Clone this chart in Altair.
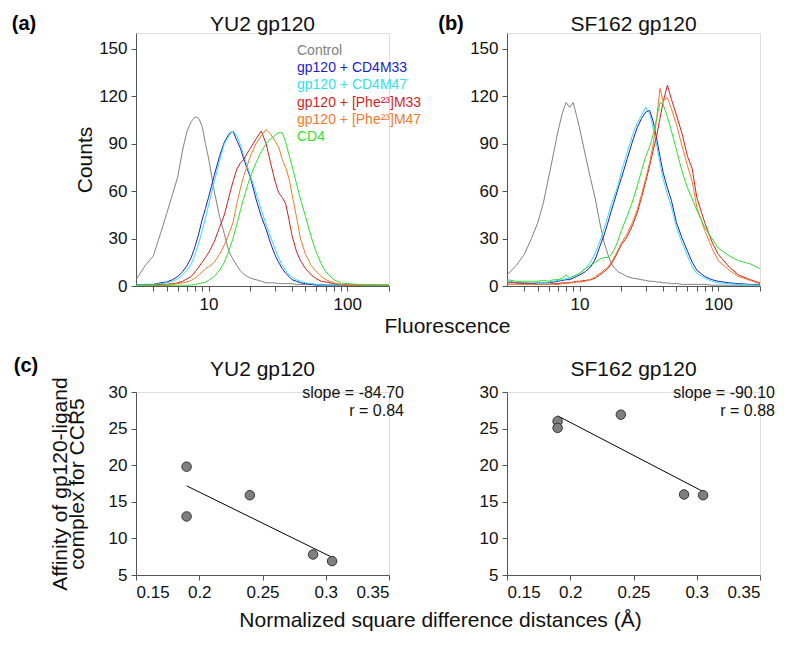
import altair as alt
import pandas as pd

FONT = "Liberation Sans"

# ---------------- data ----------------
FLUOR = [3, 3.5, 4, 4.5, 5, 5.5, 6, 6.5, 7, 7.5, 8, 8.5, 9, 9.5, 10, 11, 12, 13, 14, 15,
         16, 17, 18, 19, 20, 22, 24, 26, 28, 30, 32, 34, 36, 38, 40, 43, 46, 50, 55, 60,
         65, 70, 80, 90, 100, 120, 140, 170, 200]

SERIES = ["Control", "gp120 + CD4M33", "gp120 + CD4M47",
          "gp120 + [Phe²³]M33", "gp120 + [Phe²³]M47", "CD4"]
COLORS = ["#808080", "#1c1cc4", "#30e0ee", "#d41e1e", "#f47a2a", "#2fe02f"]

YU2_CONTROL = [4, 13, 19, 33, 46, 58, 69, 86, 98, 104, 107, 106, 101, 90, 81,
               60, 44, 33, 22, 17, 13, 9.5, 7.5, 6, 5,
               4, 3, 2, 2, 2, 1.5, 1.5, 1.5, 1.5, 1.5,
               1, 1, 1, 1, 1, 1, 0.5, 0.5, 0.5, 0.5,
               0.5, 0.5, 0.5, 0.5]
YU2_M33 = [0.5, 1, 1, 2, 2.5, 4, 6, 9, 13, 18, 25, 33, 42, 49, 56,
           70, 82, 91, 96, 98, 92, 87, 80, 74, 69,
           55, 44, 36, 27, 20, 15, 11, 8, 6, 4,
           3, 2, 1.5, 1, 0.5, 0.5, 0.5, 0.5, 0.5, 0.5,
           0.5, 0.5, 0.5, 0.5]
YU2_M47 = [0.5, 1, 1, 1.5, 2, 3, 4.5, 7, 10, 14, 20, 27, 35, 43, 51,
           66, 79, 90, 95, 98, 95, 89, 82, 76, 70,
           59, 48, 39, 31, 24, 18, 13, 10, 7, 5.5,
           4, 3, 2, 1.5, 1, 0.5, 0.5, 0.5, 0.5, 0.5,
           0.5, 0.5, 0.5, 0.5]
YU2_PHE_M33 = [0.3, 0.5, 0.5, 1, 1, 1.5, 2, 3, 4.5, 6, 9, 12, 15, 18, 21,
               28, 37, 45, 56, 66, 74, 78, 80, 84, 87,
               93, 98, 90, 78, 67, 59, 56, 52, 42, 32,
               22, 16, 11, 7, 4.5, 3, 2.5, 1.5, 1, 0.5,
               0.5, 0.5, 0.3, 0.3]
YU2_PHE_M47 = [0.3, 0.5, 0.5, 0.5, 1, 1, 1.5, 2, 2.5, 3.5, 5, 7, 9, 11, 12,
               15, 20, 26, 33, 40, 52, 62, 70, 76, 82,
               90, 95, 99, 96, 92, 88, 80, 75, 68, 58,
               44, 30, 20, 13, 9, 6, 4, 2, 1, 0.5,
               0.5, 0.5, 0.5, 0.5]
YU2_CD4 = [0.3, 0.3, 0.3, 0.3, 0.3, 0.5, 0.5, 0.5, 0.5, 0.5, 1, 1.5, 2, 2.5, 3.5,
           6, 10, 15, 22, 30, 39, 48, 56, 63, 69,
           78, 85, 90, 93, 95, 97, 97, 91, 83, 76,
           65, 55, 44, 31, 21, 14, 9, 4, 2, 1.5,
           1, 0.5, 0.5, 0.5]

SF_CONTROL = [7, 13, 20, 30, 40, 53, 69, 84, 98, 109, 116, 113, 116, 108, 100,
              83, 68, 55, 40, 28, 20, 14, 11, 9, 8,
              6, 5, 4.5, 4, 3.5, 3, 3, 2.5, 2.5, 2,
              2, 1.5, 1.5, 1, 1, 1, 1, 1, 0.5, 0.5,
              0.5, 0.5, 0.5, 0.5]
SF_M33 = [3, 2, 2, 1.5, 2, 2, 2, 2.5, 3, 3.5, 4, 4, 5, 6, 7,
          9, 12, 17, 25, 32, 40, 48, 55, 62, 68,
          80, 91, 100, 106, 110, 111, 104, 93, 82, 72,
          62, 54, 40, 30, 22, 15, 10, 6, 4, 3,
          2, 1.5, 1, 1]
SF_M47 = [3, 2, 2, 2, 2, 2, 2.5, 3, 3.5, 4, 4.5, 5, 6, 7, 8,
          11, 15, 21, 28, 36, 44, 52, 58, 64, 72,
          84, 95, 103, 108, 113, 109, 100, 89, 78, 68,
          58, 50, 37, 27, 19, 12, 8, 5, 3, 2,
          1.5, 1, 0.8, 0.5]
SF_PHE_M33 = [2, 2, 1.5, 1.5, 1, 1, 1, 1.5, 1.5, 2, 2, 2, 2.5, 3, 3,
              3.5, 4, 5, 7, 9, 11, 14, 18, 22, 26,
              31, 38, 46, 56, 66, 76, 86, 95, 106, 116,
              127, 118, 108, 96, 82, 74, 56, 40, 28, 20,
              12, 7, 4, 2]
SF_PHE_M47 = [1, 1, 1, 1, 1, 1, 1, 1, 1, 1.5, 1.5, 2, 2, 2.5, 2.5,
              3, 4, 6, 8, 10, 12, 15, 19, 23, 27,
              33, 40, 48, 58, 68, 78, 90, 106, 125, 117,
              119, 112, 102, 88, 76, 66, 50, 35, 24, 16,
              10, 6, 3.5, 1.5]
SF_CD4 = [4, 3, 3, 3, 3, 3.5, 3, 4, 4, 5, 7, 5, 6, 7, 8,
          11, 13, 15, 17, 18, 18, 20, 24, 29, 35,
          44, 53, 63, 73, 82, 88, 96, 106, 116, 115,
          107, 98, 86, 72, 62, 55, 48, 37, 30, 24,
          19, 16, 14, 11]

LOG_TICKS = [4, 5, 6, 7, 8, 9, 10, 20, 30, 40, 50, 60, 70, 80, 90, 100, 200]
COUNT_TICKS = [0, 30, 60, 90, 120, 150]

DIST = [0.19, 0.19, 0.24, 0.29, 0.305]
YU2_AFFINITY = [19.8, 13.0, 15.9, 7.8, 6.9]
SF_AFFINITY = [26.0, 25.1, 26.9, 16.0, 15.9]
DIST_TICKS = [0.15, 0.2, 0.25, 0.3, 0.35]
AFF_TICKS = [5, 10, 15, 20, 25, 30]
YU2_STATS = ["slope = -84.70", "r = 0.84"]
SF_STATS = ["slope = -90.10", "r = 0.88"]

# ---------------- layout constants ----------------
W = 253
H_TOP = 253
H_BOT = 183

AX = dict(domainColor="#555555", tickColor="#555555", tickSize=5, labelFontSize=17,
          labelColor="#111111", labelPadding=4, grid=False, labelFont=FONT,
          titleFont=FONT, titleFontSize=21, titleFontWeight="normal", titleColor="#111111")


def text_layer(txt, x, y, **kw):
    return alt.Chart(pd.DataFrame({"t": [txt]})).mark_text(font=FONT, **kw).encode(
        x=alt.value(x), y=alt.value(y), text="t:N")


def panel_title(title, y):
    return text_layer(title, W / 2, y, align="center", baseline="alphabetic",
                      fontSize=21, color="#111111")


def hist_panel(lists, title, letter, letter_x, legend, xtitle, ytitle):
    xaxis = dict(AX)
    xaxis.update(values=LOG_TICKS, labelPadding=5,
                 labelExpr="datum.value == 10 ? '10' : (datum.value == 100 ? '100' : '')")
    if xtitle:
        xaxis.update(title="Fluorescence", titleX=311, titleY=40, titleBaseline="middle")
    else:
        xaxis.update(title=None)
    yaxis = dict(AX)
    yaxis.update(values=COUNT_TICKS)
    if ytitle:
        yaxis.update(title="Counts", titleX=-51, titleY=H_TOP / 2, titleBaseline="middle")
    else:
        yaxis.update(title=None)
    x = alt.X("fluor:Q", scale=alt.Scale(type="log", domain=[3, 200], nice=False),
              axis=alt.Axis(**xaxis))
    y = alt.Y("count:Q", scale=alt.Scale(domain=[0, 160], nice=False), axis=alt.Axis(**yaxis))
    layers = []
    for name, vals, col in zip(SERIES, lists, COLORS):
        df = pd.DataFrame({"fluor": FLUOR, "count": vals})
        layers.append(alt.Chart(df).mark_line(strokeWidth=1, color=col, clip=True)
                      .encode(x=x, y=y))
    if legend:
        for i, (name, col) in enumerate(zip(SERIES, COLORS)):
            layers.append(text_layer(name, 161, 18 + i * 17.2, align="left",
                                     baseline="middle", fontSize=14, color=col))
    layers.append(text_layer(letter, letter_x, -9, align="center", baseline="middle",
                             fontSize=20, fontWeight="bold", color="black"))
    layers.append(panel_title(title, -2))
    return alt.layer(*layers).properties(width=W, height=H_TOP)


def scatter_panel(aff, stats, title, letter, xtitle, ytitle):
    xaxis = dict(AX)
    xaxis.update(values=DIST_TICKS, format=".2~f")
    if xtitle:
        xaxis.update(title="Normalized square difference distances (Å)", titleX=304,
                     titleY=45, titleBaseline="middle")
    else:
        xaxis.update(title=None)
    yaxis = dict(AX)
    yaxis.update(values=AFF_TICKS)
    if ytitle:
        yaxis.update(title=["Affinity of gp120-ligand", "complex for CCR5"], titleX=-76,
                     titleY=H_BOT / 2, titleBaseline="middle", titleLineHeight=17,
                     titleFontSize=21)
    else:
        yaxis.update(title=None)
    df = pd.DataFrame({"dist": DIST, "aff": aff})
    x = alt.X("dist:Q", scale=alt.Scale(domain=[0.15, 0.35], nice=False, zero=False),
              axis=alt.Axis(**xaxis))
    y = alt.Y("aff:Q", scale=alt.Scale(domain=[5, 30], nice=False, zero=False),
              axis=alt.Axis(**yaxis))
    reg = alt.Chart(df).transform_regression("dist", "aff").mark_line(
        color="black", strokeWidth=1).encode(x=x, y=y)
    pts = alt.Chart(df).mark_circle(size=90, color="#7f7f7f", stroke="#333333",
                                    strokeWidth=1, opacity=1).encode(x=x, y=y)
    layers = [reg, pts,
              text_layer(stats[0], W + 15, 1, align="right", baseline="middle",
                         fontSize=16, color="#111111"),
              text_layer(stats[1], W + 15, 19, align="right", baseline="middle",
                         fontSize=16, color="#111111"),
              panel_title(title, -16)]
    if letter:
        layers.append(text_layer(letter, -110, -26, align="center", baseline="middle",
                                 fontSize=20, fontWeight="bold", color="black"))
    return alt.layer(*layers).properties(width=W, height=H_BOT)


a = hist_panel([YU2_CONTROL, YU2_M33, YU2_M47, YU2_PHE_M33, YU2_PHE_M47, YU2_CD4],
               "YU2 gp120", "(a)", -112, True, True, True)
b = hist_panel([SF_CONTROL, SF_M33, SF_M47, SF_PHE_M33, SF_PHE_M47, SF_CD4],
               "SF162 gp120", "(b)", -56, False, False, False)
c = scatter_panel(YU2_AFFINITY, YU2_STATS, "YU2 gp120", "(c)", True, True)
d = scatter_panel(SF_AFFINITY, SF_STATS, "SF162 gp120", "", False, False)

chart = alt.concat(
    a, b, c, d, columns=2,
    spacing=alt.RowColnumber(row=106, column=118),
    bounds="flush",
).properties(
    padding={"left": 3, "top": 5, "right": 5, "bottom": 5},
    background="white",
).configure_view(stroke=None).configure(font=FONT)

chart.save("out.html", embed_options={"renderer": "svg", "actions": False})
